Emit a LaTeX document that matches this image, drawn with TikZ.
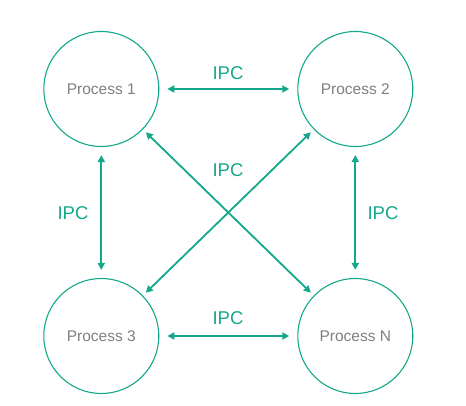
\documentclass[tikz,border=0pt]{standalone}
\usepackage{fontspec}
\setmainfont{Liberation Sans}
\usetikzlibrary{arrows.meta}
\definecolor{teal1}{HTML}{13A88B}
\definecolor{txtgray}{HTML}{7F7F7F}
\tikzset{
  proc/.style={circle, draw=teal1, line width=1.1pt, minimum size=115pt, inner sep=0pt, text=txtgray, font=\fontsize{15.5}{18}\selectfont},
  arr/.style={draw=teal1, line width=1.8pt, {Triangle[length=7pt,width=7pt]}-{Triangle[length=7pt,width=7pt]}},
  lbl/.style={text=teal1, font=\fontsize{18.5}{22}\selectfont, inner sep=0pt}
}
\begin{document}
\begin{tikzpicture}[x=1pt,y=1pt]
\useasboundingbox (0,0) rectangle (466,405);
\node[proc] (p1) at (101.3,316) {Process 1};
\node[proc] (p2) at (355.3,316) {Process 2};
\node[proc] (p3) at (101.3,69) {Process 3};
\node[proc] (pn) at (355.3,69) {Process N};
\draw[arr, shorten <=8pt, shorten >=8pt] (p1) -- (p2);
\draw[arr, shorten <=8pt, shorten >=8pt] (p3) -- (pn);
\draw[arr, shorten <=8pt, shorten >=8pt] (p1) -- (p3);
\draw[arr, shorten <=8pt, shorten >=8pt] (p2) -- (pn);
\draw[arr, shorten <=4pt, shorten >=4pt] (p1) -- (pn);
\draw[arr, shorten <=4pt, shorten >=4pt] (p2) -- (p3);
\node[lbl] (l1) at (228,332) {IPC};
\node[lbl] (l2) at (228,235) {IPC};
\node[lbl] (l3) at (73,192) {IPC};
\node[lbl] (l4) at (383,192) {IPC};
\node[lbl] (l5) at (228,87) {IPC};
\end{tikzpicture}
\end{document}
